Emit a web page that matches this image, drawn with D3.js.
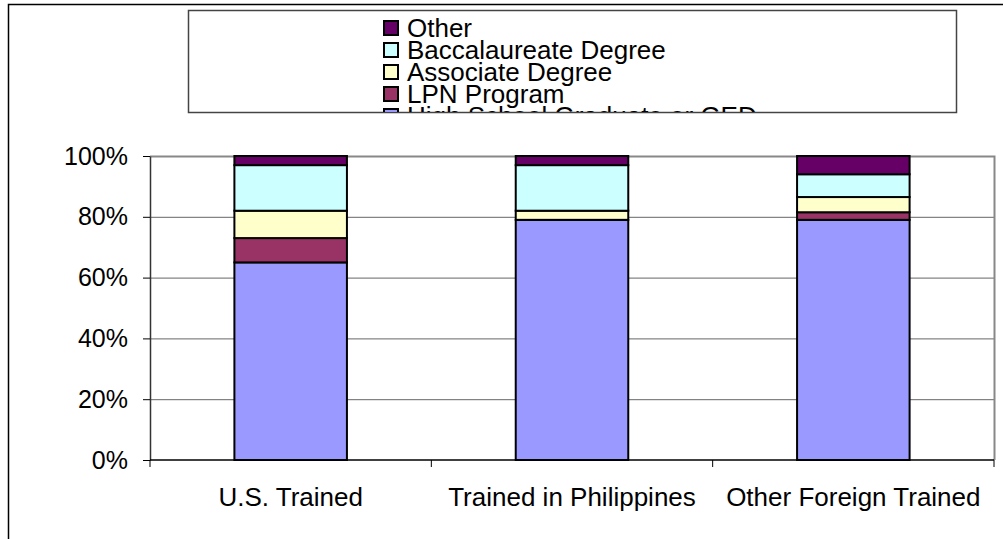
<!DOCTYPE html>
<html>
<head>
<meta charset="utf-8">
<script src="https://cdn.jsdelivr.net/npm/d3@7"></script>
<style>
  html, body { margin: 0; padding: 0; background: #fff; }
  svg { display: block; font-family: "Liberation Sans", Arial, sans-serif; }
</style>
</head>
<body>
<svg id="chart" width="1003" height="539"></svg>
<script>
// Education background by training origin (share of each group, %)
const categories = ["U.S. Trained", "Trained in Philippines", "Other Foreign Trained"];
const seriesNames = ["High School Graduate or GED", "LPN Program", "Associate Degree", "Baccalaureate Degree", "Other"];
const highSchool    = [65, 79, 79];
const lpnProgram    = [8, 0, 2.5];
const associate     = [9, 3, 5];
const baccalaureate = [15, 15, 7.5];
const other         = [3, 3, 6];
const yTicks = [0, 20, 40, 60, 80, 100];
const colors = ["#9999FF", "#993366", "#FFFFCC", "#CCFFFF", "#660066"];

const seriesValues = [highSchool, lpnProgram, associate, baccalaureate, other];
const rows = categories.map((c, i) => {
  const r = { category: c };
  seriesNames.forEach((s, k) => { r[s] = seriesValues[k][i]; });
  return r;
});
const stacked = d3.stack().keys(seriesNames)(rows);

const svg = d3.select("#chart");
const plot = { left: 150, top: 156, right: 994, bottom: 460 };

// Outer chart frame
svg.append("rect")
  .attr("x", 8.5).attr("y", 4.5).attr("width", 1100).attr("height", 600)
  .attr("fill", "none").attr("stroke", "#000").attr("stroke-width", 1.5);

const x = d3.scaleBand().domain(categories).range([plot.left, plot.right]).padding(0);
const y = d3.scaleLinear().domain([0, 100]).range([plot.bottom, plot.top]);
const barW = x.bandwidth() * 0.4;

// Gridlines
svg.append("g").selectAll("line").data(yTicks.filter(t => t > 0 && t < 100)).join("line")
  .attr("x1", plot.left).attr("x2", plot.right)
  .attr("y1", d => y(d) + 0.5).attr("y2", d => y(d) + 0.5)
  .attr("stroke", "#666").attr("stroke-width", 1);

// Plot area border (top and right)
svg.append("path")
  .attr("d", `M${plot.left},${plot.top + 0.5}H${plot.right + 0.5}V${plot.bottom}`)
  .attr("fill", "none").attr("stroke", "#888").attr("stroke-width", 2);

// Stacked bars
svg.append("g").selectAll("g").data(stacked).join("g")
  .attr("fill", (d, i) => colors[i])
  .selectAll("rect").data(d => d.filter(p => p[1] - p[0] > 0)).join("rect")
  .attr("x", d => x(d.data.category) + (x.bandwidth() - barW) / 2)
  .attr("y", d => y(d[1]))
  .attr("width", barW)
  .attr("height", d => y(d[0]) - y(d[1]))
  .attr("stroke", "#000").attr("stroke-width", 2);

// Y axis
const yAxis = svg.append("g")
  .attr("transform", `translate(${plot.left},0)`)
  .call(d3.axisLeft(y).tickValues(yTicks).tickFormat(d => d + "%").tickSize(7).tickSizeOuter(0));
yAxis.select(".domain").attr("stroke", "#333").attr("stroke-width", 1.5);
yAxis.selectAll(".tick line").attr("stroke", "#000");
yAxis.selectAll(".tick text")
  .attr("x", -22).attr("font-size", 25).attr("fill", "#000")
  .attr("font-family", "Liberation Sans, Arial, sans-serif");

// X axis with ticks at category boundaries
const xAxisG = svg.append("g").attr("transform", `translate(0,${plot.bottom})`);
xAxisG.append("line")
  .attr("x1", plot.left).attr("x2", plot.right)
  .attr("stroke", "#000").attr("stroke-width", 1.5);
const boundaries = categories.map(c => x(c)).concat([x(categories[categories.length - 1]) + x.bandwidth()]);
xAxisG.selectAll("line.tick").data(boundaries).join("line")
  .attr("class", "tick")
  .attr("x1", d => d).attr("x2", d => d)
  .attr("y1", 0).attr("y2", 7)
  .attr("stroke", "#000").attr("stroke-width", 1);
xAxisG.selectAll("text").data(categories).join("text")
  .attr("x", d => x(d) + x.bandwidth() / 2)
  .attr("y", 46)
  .attr("text-anchor", "middle")
  .attr("font-size", 26)
  .attr("fill", "#000")
  .text(d => d);

// Legend (entries listed top-down from the last series; the box clips the overflow)
const legend = { x: 188, y: 10, w: 768, h: 102 };
svg.append("defs").append("clipPath").attr("id", "legendClip")
  .append("rect").attr("x", legend.x).attr("y", legend.y).attr("width", legend.w).attr("height", legend.h);
svg.append("rect")
  .attr("x", legend.x + 0.5).attr("y", legend.y + 0.5).attr("width", legend.w).attr("height", legend.h)
  .attr("fill", "#fff").attr("stroke", "#444").attr("stroke-width", 1.5);
const legendOrder = seriesNames.map((s, i) => ({ name: s, color: colors[i] })).reverse();
const items = svg.append("g").attr("clip-path", "url(#legendClip)")
  .selectAll("g").data(legendOrder).join("g")
  .attr("transform", (d, i) => `translate(383,${20 + i * 22})`);
items.append("rect")
  .attr("x", 1).attr("y", 1).attr("width", 14).attr("height", 14)
  .attr("fill", d => d.color).attr("stroke", "#000").attr("stroke-width", 2);
items.append("text")
  .attr("x", 24).attr("y", 17)
  .attr("font-size", 26).attr("fill", "#000")
  .text(d => d.name);
</script>
</body>
</html>
